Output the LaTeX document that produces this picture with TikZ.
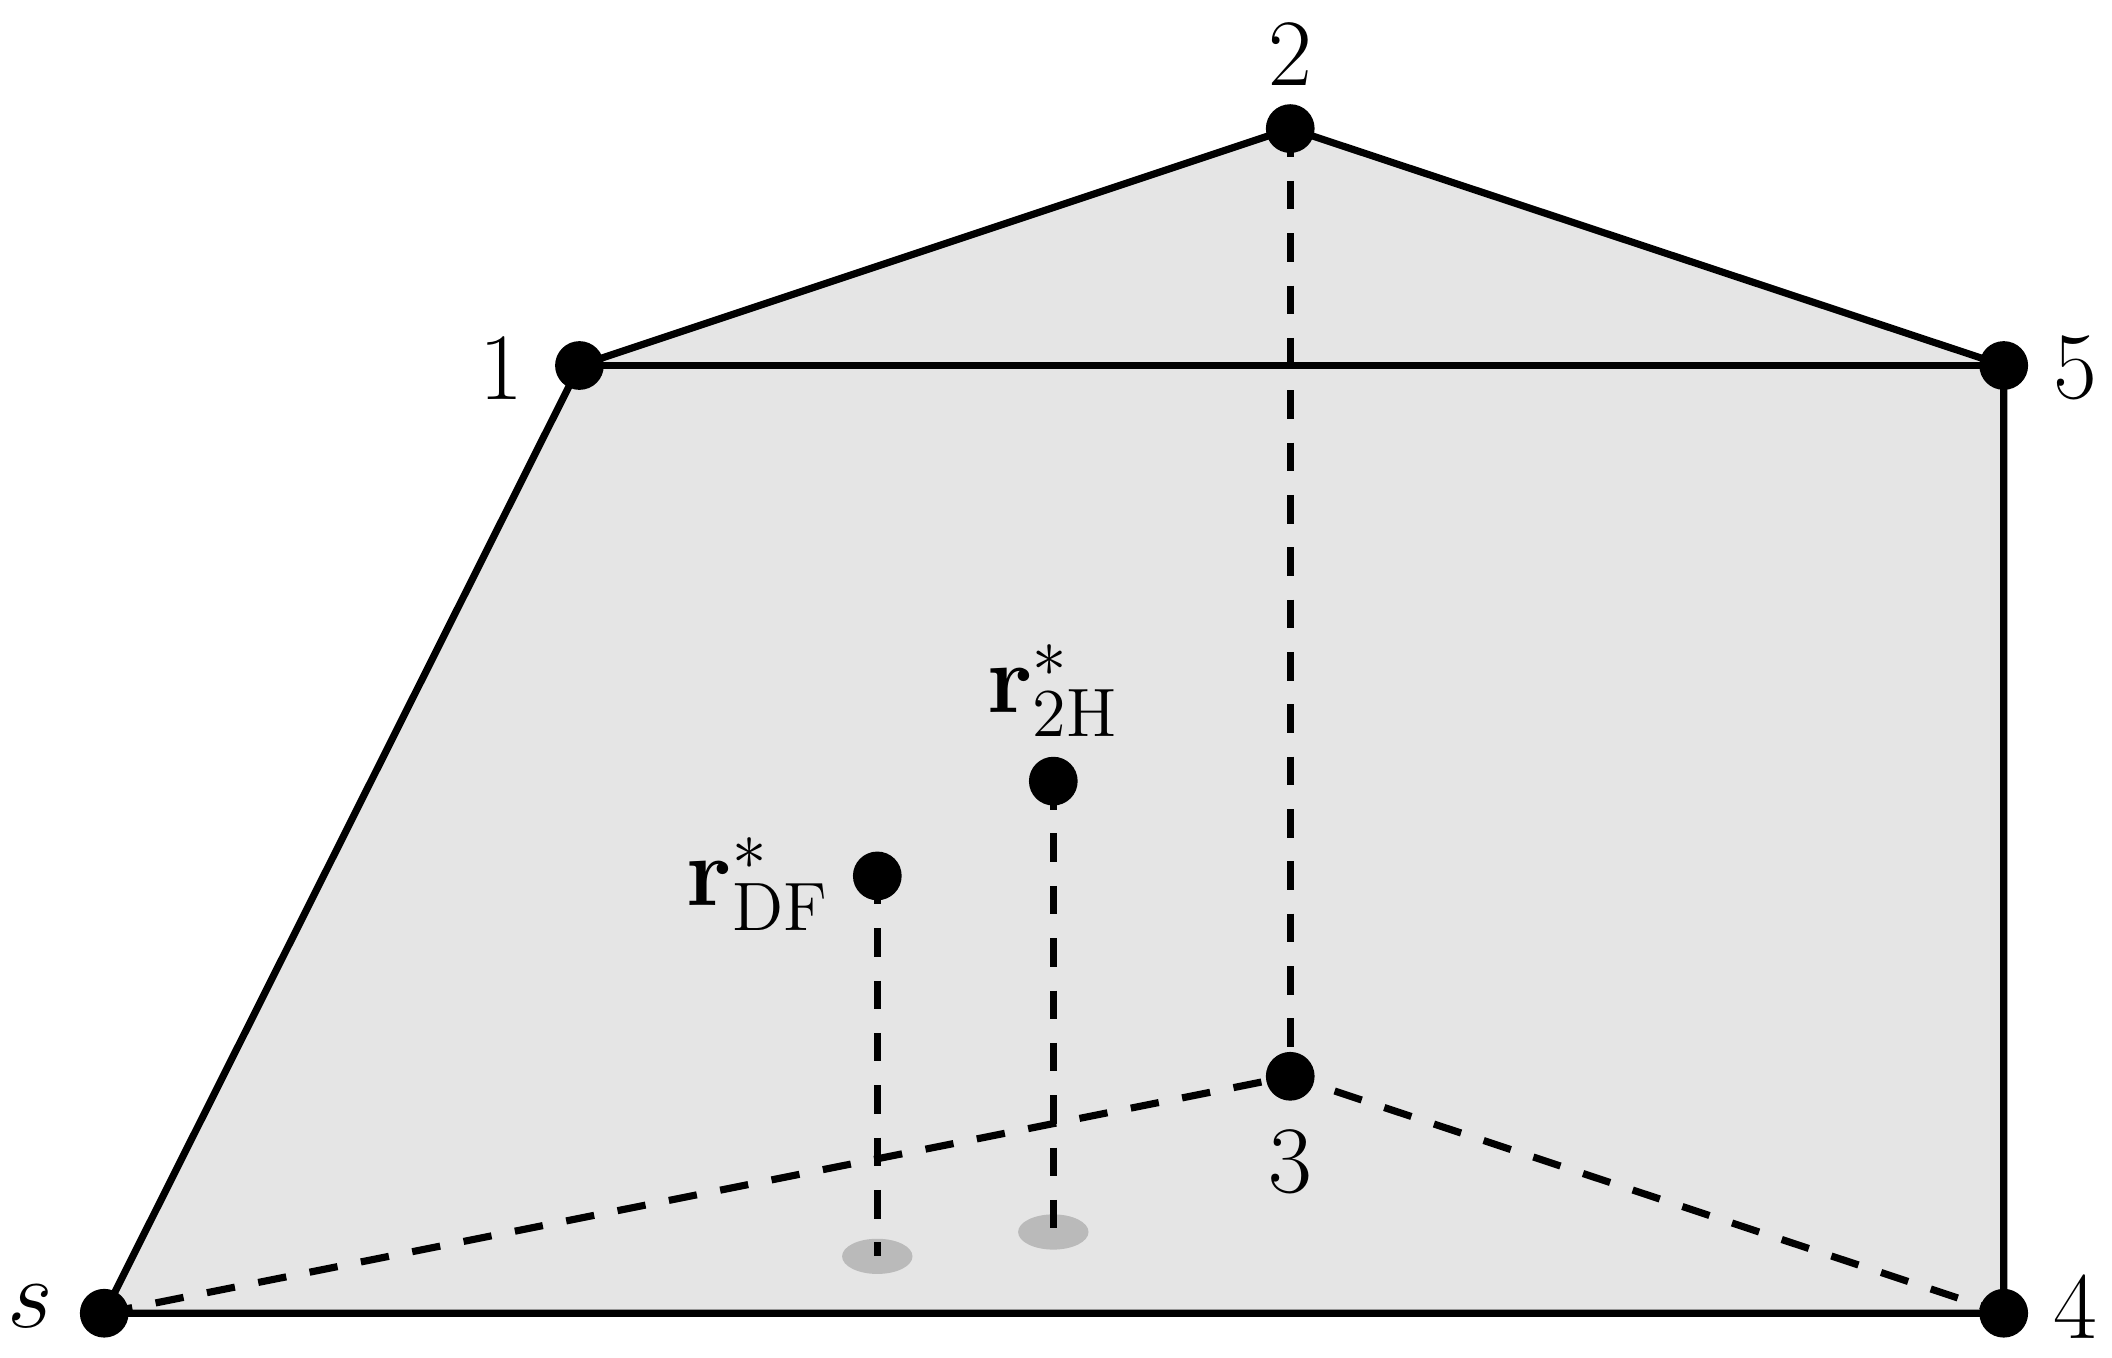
\documentclass[tikz,border=0pt]{standalone}
\begin{document}
\begin{tikzpicture}[
  dot/.style={circle,fill=black,inner sep=0pt,minimum size=0.36cm},
  edge/.style={line width=1.5pt},
  dedge/.style={line width=1.5pt,dash pattern=on 6pt off 5pt},
  lab/.style={font=\fontsize{20}{24}\selectfont},
  shadow/.style={fill=black!27}]
\useasboundingbox (0,0) rectangle (15.6,10.03);
\coordinate (s) at (0.77,0.33);
\coordinate (p1) at (4.28,7.33);
\coordinate (p2) at (9.53,9.08);
\coordinate (p5) at (14.80,7.33);
\coordinate (p4) at (14.80,0.33);
\coordinate (p3) at (9.53,2.08);
\coordinate (df) at (6.48,3.56);
\coordinate (th) at (7.78,4.26);
\coordinate (dfs) at (6.48,0.75);
\coordinate (ths) at (7.78,0.93);
\fill[black!10] (s) -- (p1) -- (p2) -- (p5) -- (p4) -- cycle;
\fill[shadow] (dfs) ellipse (0.26 and 0.13);
\fill[shadow] (ths) ellipse (0.26 and 0.13);
\draw[edge] (s) -- (p1) -- (p2) -- (p5) -- (p4) -- cycle;
\draw[edge] (p1) -- (p5);
\draw[dedge] (p2) -- (p3);
\draw[dedge] (s) -- (p3) -- (p4);
\draw[dedge] (df) -- (dfs);
\draw[dedge] (th) -- (ths);
\foreach \p in {s,p1,p2,p3,p4,p5,df,th} \node[dot] (n\p) at (\p) {};
\node[lab] (ls) at (0.22,0.38) {$s$};
\node[lab] (l1) at (3.70,7.31) {1};
\node[lab] (l2) at (9.53,9.63) {2};
\node[lab] (l5) at (15.33,7.31) {5};
\node[lab] (l4) at (15.33,0.38) {4};
\node[lab] (l3) at (9.53,1.45) {3};
\node[lab] (ldf) at (5.60,3.50) {$\mathbf{r}^*_{\mathrm{DF}}$};
\node[lab] (lth) at (7.78,4.93) {$\mathbf{r}^*_{\mathrm{2H}}$};
\end{tikzpicture}
\end{document}
